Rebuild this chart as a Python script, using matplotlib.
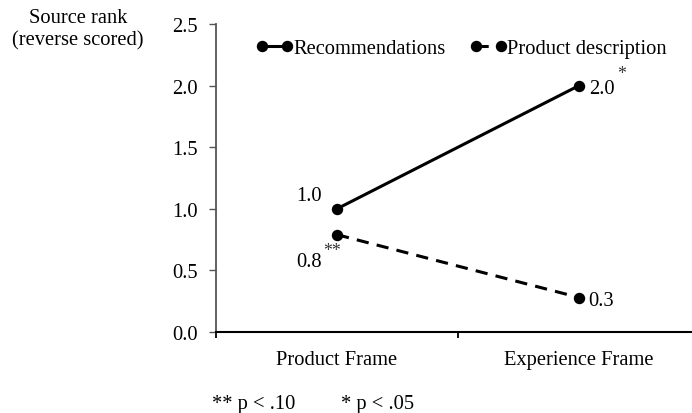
import matplotlib
matplotlib.use("Agg")
import matplotlib.pyplot as plt
from matplotlib.lines import Line2D

# Data
frames = ["Product Frame", "Experience Frame"]
recommendations = [1.0, 2.0]
product_description = [0.79, 0.28]
y_ticks = [0.0, 0.5, 1.0, 1.5, 2.0, 2.5]

plt.rcParams["font.family"] = ["Liberation Serif", "DejaVu Serif"]
fs = 14.8

fig = plt.figure(figsize=(6.92, 4.14), dpi=100)
ax = fig.add_axes([216 / 692, 81 / 414, 476 / 692, 308 / 414])

x = list(range(len(frames)))
lw = 2.2
ms = 7.2
dash = (0, (4, 2.7))
ax.plot(x, recommendations, color="black", lw=lw, marker="o", ms=ms,
        solid_capstyle="butt", clip_on=False)
ax.plot(x, product_description, color="black", lw=lw, marker="o", ms=ms,
        linestyle=dash, clip_on=False)

ax.set_xlim(-0.5, -0.5 + 476 / 242)
ax.set_ylim(0, 2.5)
ax.set_yticks(y_ticks)
ax.set_yticklabels([f"{v:.1f}" for v in y_ticks], fontsize=fs)
ax.set_xticks(x)
ax.set_xticklabels(frames, fontsize=fs)
ax.tick_params(axis="x", length=0, pad=13)
ax.set_xticks([-0.5, 0.5], minor=True)
ax.tick_params(axis="x", which="minor", length=4, width=1.3, direction="out")
ax.tick_params(axis="y", length=5, width=1, direction="out", pad=8,
               color="#555555")
for side in ["top", "right"]:
    ax.spines[side].set_visible(False)
ax.spines["left"].set_color("#555555")
ax.spines["left"].set_linewidth(1.3)
ax.spines["bottom"].set_linewidth(1.5)

# Value labels
ax.annotate(f"{recommendations[0]:.1f}", (x[0], recommendations[0]),
            xytext=(-11, 9.5), textcoords="offset points", fontsize=fs,
            ha="right", va="center")
ax.annotate(f"{recommendations[1]:.1f}", (x[1], recommendations[1]),
            xytext=(7, -1.8), textcoords="offset points", fontsize=fs,
            ha="left", va="center")
ax.annotate("*", (x[1], recommendations[1]),
            xytext=(31, 8.5), textcoords="offset points", fontsize=fs - 2,
            ha="center", va="center", color="#333333")
ax.annotate(f"{product_description[0]:.1f}", (x[0], product_description[0]),
            xytext=(-11, -19.5), textcoords="offset points", fontsize=fs,
            ha="right", va="center")
ax.annotate("**", (x[0], product_description[0]),
            xytext=(-3.6, -11.5), textcoords="offset points", fontsize=fs - 2,
            ha="center", va="center", color="#333333")
ax.annotate(f"{product_description[1]:.1f}", (x[1], product_description[1]),
            xytext=(7, -1.8), textcoords="offset points", fontsize=fs,
            ha="left", va="center")

# Legend
handles = [
    Line2D([], [], color="black", lw=lw, marker="o", ms=ms),
    Line2D([], [], color="black", lw=lw, marker="o", ms=ms, linestyle=dash),
]
ax.legend(handles, ["Recommendations", "Product description"], ncol=2,
          loc="upper left", bbox_to_anchor=(40 / 476, 0.952), frameon=False,
          fontsize=fs, numpoints=2, handlelength=1.8, handletextpad=0.0,
          columnspacing=1.2, borderaxespad=0, borderpad=0)

# Axis title and footnote
fig.text(78 / 692, 1 - 30 / 414, "Source rank\n(reverse scored)",
         ha="center", va="center", fontsize=fs, linespacing=1.25)
fig.text(212 / 692, 1 - 405 / 414, "** p < .10", ha="left", va="center",
         fontsize=fs)
fig.text(341 / 692, 1 - 405 / 414, "* p < .05", ha="left", va="center",
         fontsize=fs)

fig.savefig("out.png", dpi=100)
